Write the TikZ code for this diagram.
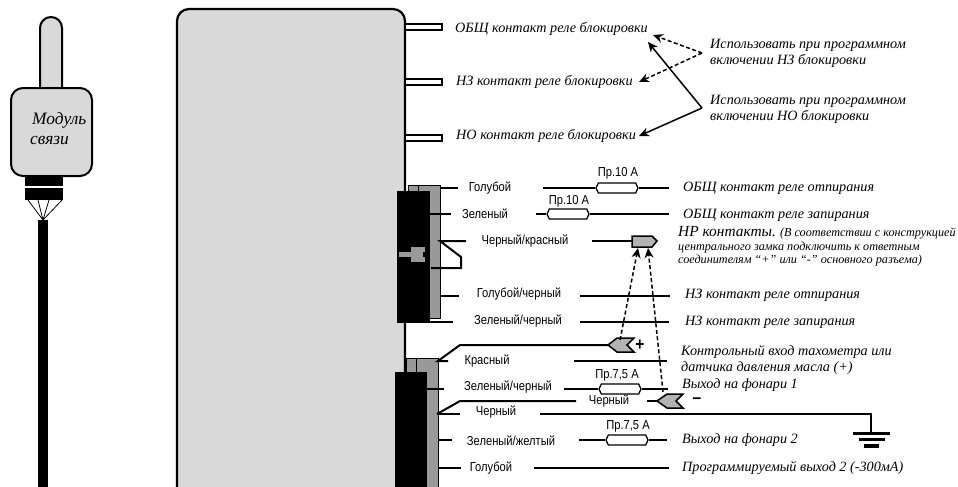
\documentclass[tikz,border=0pt]{standalone}
\usepackage{fontspec}
\setmainfont{Liberation Serif}
\newfontfamily\wirefont[FakeStretch=0.86]{Liberation Sans}
\usetikzlibrary{arrows.meta,shapes.symbols}
\definecolor{boxgray}{HTML}{D9D9D9}
\definecolor{conngray}{HTML}{999999}
\definecolor{pluggray}{HTML}{B3B3B3}
\tikzset{
  wire/.style={line width=2pt},
  wirelabel/.style={font=\wirefont\fontsize{13}{13}\selectfont,inner sep=0pt},
  fuselabel/.style={font=\wirefont\fontsize{13}{13}\selectfont,inner sep=0pt},
  note/.style={font=\itshape\fontsize{14.2}{16}\selectfont,anchor=west,align=left,inner sep=0pt},
  modtext/.style={note,font=\itshape\fontsize{17.4}{17}\selectfont},
  fuse/.style={signal,signal to=east and west,signal pointer angle=130,draw,fill=white,line width=1.3pt,minimum width=42pt,minimum height=10pt,inner sep=0pt},
  plug/.style={draw,fill=pluggray,line width=1.5pt},
  pin/.style={draw,fill=white,line width=1.6pt},
  tip/.style={-{Stealth[length=10pt,width=9pt]},line width=1.5pt},
  dashtip/.style={tip,dash pattern=on 4pt off 2.5pt},
  sign/.style={inner sep=0pt,font=\wirefont\bfseries\fontsize{18}{18}\selectfont},
}
\begin{document}
\begin{tikzpicture}[x=1pt,y=-1pt]
    \useasboundingbox (0,0) rectangle (958,487);

    % Module on the left
    \draw[fill=boxgray,line width=2pt,rounded corners=11pt] (40,96) -- (40,17) -- (62,17) -- (62,96);
    \draw[fill=boxgray,line width=2pt,rounded corners=12pt] (11,88) rectangle (92,176);
    \fill (25,176) rectangle (63,186);
    \fill (25,188) rectangle (63,200);
    \coordinate (fan) at (43,220);
    \coordinate (fanA) at (28,200);
    \coordinate (fanB) at (38,200);
    \coordinate (fanC) at (49,200);
    \coordinate (fanD) at (62,200);
    \draw[line width=0.8pt] (fanA) -- (fan) (fanB) -- (fan) (fanC) -- (fan) (fanD) -- (fan);
    \fill (38,220) rectangle (48,487);
    \node[modtext] (modA) at (32,120) {Модуль};
    \node[modtext] (modB) at (30,140) {связи};

    % Main unit, open at the bottom
    \draw[fill=boxgray,line width=2.2pt,rounded corners=12pt] (177,500) -- (177,9) -- (405,9) -- (405,500);

    % Blocking relay pins
    \draw[pin] (405,24) rectangle (442,30);
    \draw[pin] (405,79) rectangle (442,85);
    \draw[pin] (405,135) rectangle (442,141);
    \node[note] (comA) at (455,29) {ОБЩ контакт реле блокировки};
    \node[note] (ncA) at (456,82) {НЗ контакт реле блокировки};
    \node[note] (noA) at (456,136) {НО контакт реле блокировки};
    \node[note] (useNc) at (710,53) {Использовать при программном\\включении НЗ блокировки};
    \node[note] (useNo) at (710,109) {Использовать при программном\\включении НО блокировки};

    % Arrows to the relay texts
    \coordinate (hubNc) at (702,53);
    \coordinate (hubNo) at (702,108);
    \coordinate (tipComA) at (653,35);
    \coordinate (tipComB) at (648,42);
    \coordinate (tipNc) at (639,82);
    \coordinate (tipNo) at (639,136);
    \draw[dashtip] (hubNc) -- (tipComA);
    \draw[dashtip] (hubNc) -- (tipNc);
    \draw[tip] (hubNo) -- (tipComB);
    \draw[tip] (hubNo) -- (tipNo);

    % Upper connector
    \draw[fill=conngray,line width=0.8pt] (408,185) rectangle (440,318);
    \draw[line width=0.8pt] (418,185) -- (418,191);
    \fill (397,191) rectangle (430,323);
    \fill[conngray] (411,247) rectangle (425,262);
    \fill[black] (411,252) rectangle (425,257);
    \fill[conngray] (399,252) rectangle (423,257);

    % Wires of the upper connector
    \coordinate (blueA) at (440,188);
    \coordinate (blueB) at (458,188);
    \coordinate (blueC) at (543,188);
    \coordinate (blueD) at (669,188);
    \node[wirelabel] (blue) at (490,188) {Голубой};
    \node[fuse] (fuseBlue) at (617,188) {};
    \node[fuselabel] (fuseBlueText) at (618,173) {Пр.10 А};
    \draw[wire] (blueC) -- (fuseBlue) -- (blueD);
    \draw[wire] (blueA) -- (blueB);
    \node[note] (blueNote) at (683,188) {ОБЩ контакт реле отпирания};

    \coordinate (greenA) at (430,214);
    \coordinate (greenB) at (451,214);
    \coordinate (greenC) at (536,214);
    \coordinate (greenD) at (669,214);
    \node[wirelabel] (green) at (485,214) {Зеленый};
    \node[fuse] (fuseGreen) at (568,214) {};
    \node[fuselabel] (fuseGreenText) at (569,201) {Пр.10 А};
    \draw[wire] (greenA) -- (greenB);
    \draw[wire] (greenC) -- (fuseGreen) -- (greenD);
    \node[note] (greenNote) at (683,215) {ОБЩ контакт реле запирания};

    \coordinate (brA) at (440,241);
    \coordinate (brB) at (466,241);
    \coordinate (brC) at (592,241);
    \coordinate (brD) at (632,241);
    \coordinate (brE) at (461,257);
    \coordinate (brF) at (461,268);
    \coordinate (brG) at (431,268);
    \node[wirelabel] (br) at (525,241) {Черный/красный};
    \draw[wire] (brB) -- (brA) -- (brE) -- (brF) -- (brG);
    \draw[wire] (brC) -- (brD);
    \draw[plug] (632,236) -- (652,236) -- (657,241) -- (652,247) -- (632,247) -- cycle;
    \node[note,font=\itshape\fontsize{12.2}{13.5}\selectfont] (brNote) at (678,246.5) {{\fontsize{15.4}{13}\selectfont НР контакты.} (В соответствии с конструкцией\\центрального замка подключить к ответным\\соединителям “+” или “-” основного разъема)};

    \coordinate (bbA) at (441,296);
    \coordinate (bbB) at (459,296);
    \coordinate (bbC) at (580,296);
    \coordinate (bbD) at (670,296);
    \node[wirelabel] (bb) at (519,294) {Голубой/черный};
    \draw[wire] (bbA) -- (bbB);
    \draw[wire] (bbC) -- (bbD);
    \node[note] (bbNote) at (685,295) {НЗ контакт реле отпирания};

    \coordinate (gbA) at (430,322);
    \coordinate (gbB) at (453,322);
    \coordinate (gbC) at (580,322);
    \coordinate (gbD) at (669,322);
    \node[wirelabel] (gb) at (518,321) {Зеленый/черный};
    \draw[wire] (gbA) -- (gbB);
    \draw[wire] (gbC) -- (gbD);
    \node[note] (gbNote) at (685,322) {НЗ контакт реле запирания};

    % Lower connector
    \draw[fill=conngray,line width=0.8pt] (406,358) rectangle (438,500);
    \draw[line width=0.8pt] (416,358) -- (416,372);
    \fill (395,372) rectangle (427,490);

    % Wires of the lower connector
    \coordinate (redA) at (438,361);
    \coordinate (redB) at (448,361);
    \coordinate (redC) at (574,361);
    \coordinate (redD) at (667,361);
    \coordinate (redE) at (460,345);
    \coordinate (redF) at (608,345);
    \node[wirelabel] (red) at (487,361) {Красный};
    \draw[wire] (redB) -- (redA) -- (redE) -- (redF);
    \draw[wire] (redC) -- (redD);
    \draw[plug] (608,345) -- (617,338) -- (634,338) -- (627,345) -- (634,352) -- (617,352) -- cycle;
    \node[sign] (plus) at (640,345) {+};
    \node[note] (redNote) at (681,360) {Контрольный вход тахометра или\\датчика давления масла (+)};

    \coordinate (gb2A) at (427,389);
    \coordinate (gb2B) at (444,389);
    \coordinate (gb2C) at (564,389);
    \coordinate (gb2D) at (668,389);
    \node[wirelabel] (gb2) at (508,387) {Зеленый/черный};
    \node[fuse] (fuseLamp) at (620,389) {};
    \node[fuselabel] (fuseLampText) at (617,375) {Пр.7,5 А};
    \draw[wire] (gb2A) -- (gb2B);
    \draw[wire] (gb2C) -- (fuseLamp) -- (gb2D);
    \node[note] (gb2Note) at (682,385) {Выход на фонари 1};

    \coordinate (blA) at (437,414);
    \coordinate (blB) at (460,401);
    \coordinate (blC) at (576,401);
    \coordinate (blD) at (647,401);
    \coordinate (blE) at (657,401);
    \node[wirelabel] (blTop) at (609,401) {Черный};
    \draw[wire] (blA) -- (blB) -- (blC);
    \draw[wire] (blD) -- (blE);
    \draw[plug] (657,401) -- (667,394) -- (683,394) -- (676,401) -- (683,408) -- (667,408) -- cycle;
    \node[sign] (minus) at (697,401) {–};

    \coordinate (blF) at (460,414);
    \coordinate (blG) at (540,414);
    \coordinate (blH) at (871,414);
    \coordinate (gnd) at (871,433);
    \node[wirelabel] (blLow) at (496,412) {Черный};
    \draw[wire] (blA) -- (blF);
    \draw[wire] (blG) -- (blH) -- (gnd);
    \fill (853,431.5) rectangle (890,435);
    \fill (859,437.5) rectangle (885,441);
    \fill (864,444) rectangle (879,448);

    \coordinate (gyA) at (438,440);
    \coordinate (gyB) at (452,440);
    \coordinate (gyC) at (579,440);
    \coordinate (gyD) at (667,440);
    \node[wirelabel] (gy) at (511,441) {Зеленый/желтый};
    \node[fuse] (fuseLampB) at (627,440) {};
    \node[fuselabel] (fuseLampBText) at (628,426) {Пр.7,5 А};
    \draw[wire] (gyA) -- (gyB);
    \draw[wire] (gyC) -- (fuseLampB) -- (gyD);
    \node[note] (gyNote) at (682,440) {Выход на фонари 2};

    \coordinate (blue2A) at (439,468);
    \coordinate (blue2B) at (461,468);
    \coordinate (blue2C) at (534,468);
    \coordinate (blue2D) at (669,468);
    \node[wirelabel] (blue2) at (491,468) {Голубой};
    \draw[wire] (blue2A) -- (blue2B);
    \draw[wire] (blue2C) -- (blue2D);
    \node[note] (blue2Note) at (682,468) {Программируемый выход 2  (-300мА)};

    % Dashed arrows from the plugs
    \coordinate (plusEnd) at (620,340);
    \coordinate (minusEnd) at (663,392);
    \coordinate (plugTipA) at (638,248);
    \coordinate (plugTipB) at (648,248);
    \draw[dashtip] (plusEnd) -- (plugTipA);
    \draw[dashtip] (minusEnd) -- (plugTipB);
\end{tikzpicture}
\end{document}
